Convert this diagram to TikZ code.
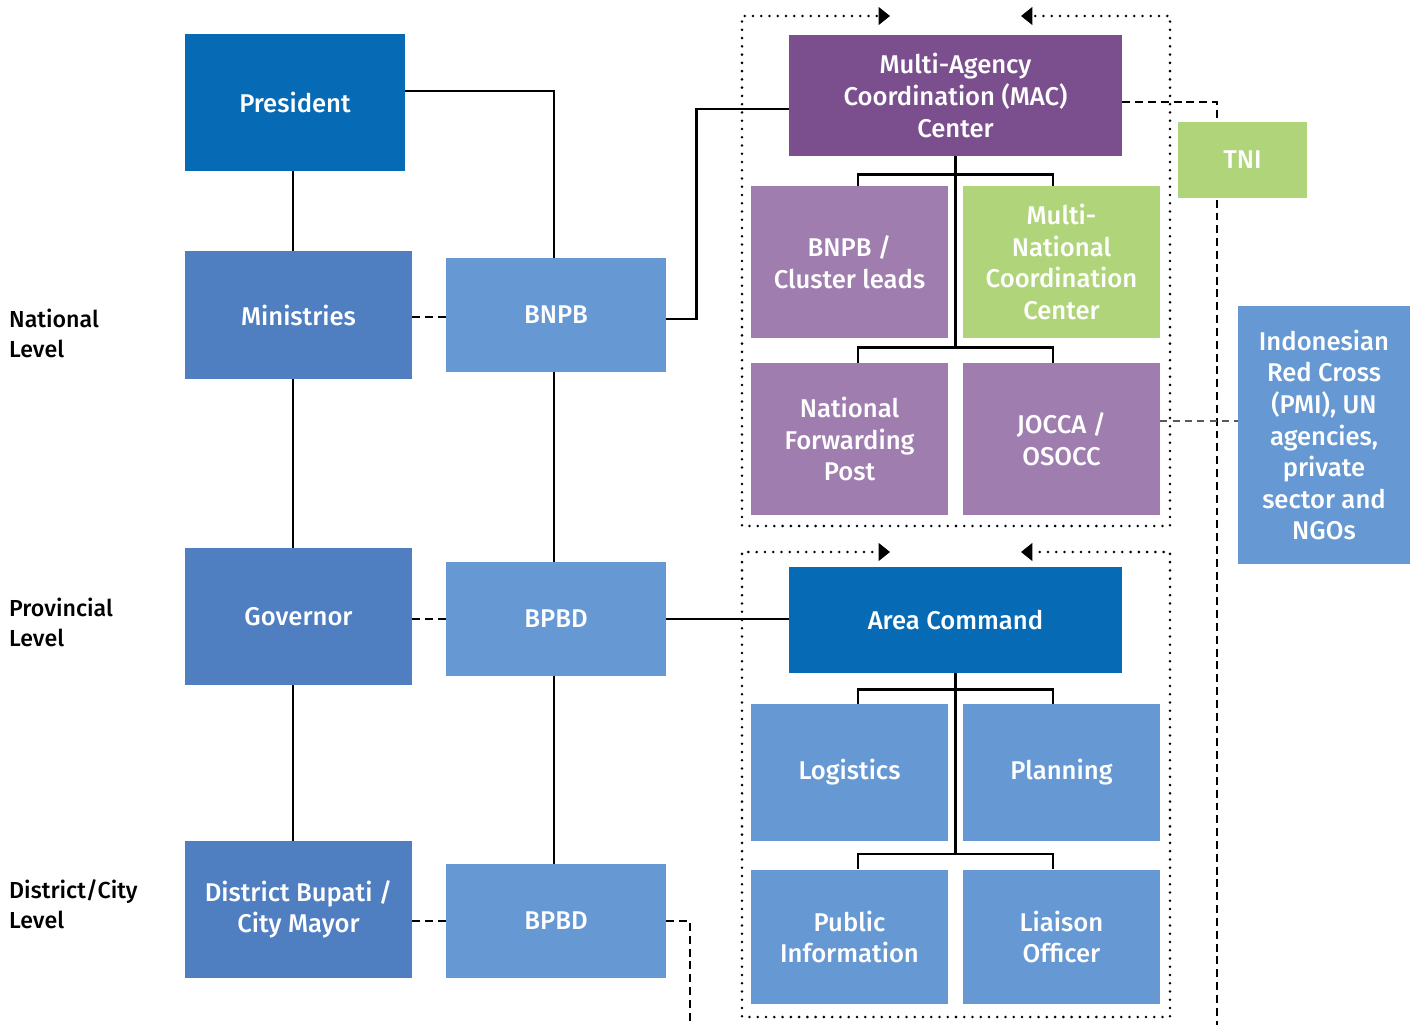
\documentclass[tikz,border=0pt]{standalone}
\usepackage{fontspec}
\setmainfont{Fira Sans}[UprightFont=* Medium]
\usetikzlibrary{arrows.meta,backgrounds}

\definecolor{deepblue}{HTML}{066AB4}
\definecolor{midblue}{HTML}{4F7EC1}
\definecolor{lightblue}{HTML}{6699D3}
\definecolor{darkpurple}{HTML}{7B4F8E}
\definecolor{lightpurple}{HTML}{A07DAF}
\definecolor{limegreen}{HTML}{B0D47A}

\tikzset{
  unit/.style={inner sep=2pt,align=center,text=white,
    font=\fontsize{14.6}{18}\selectfont},
  lvl/.style={anchor=west,align=left,font=\fontsize{13.2}{17}\selectfont},
  link/.style={line width=1.4pt},
  dashlink/.style={line width=1.5pt,dash pattern=on 4.5pt off 2.8pt},
  thindash/.style={line width=0.7pt,gray!70!black,dash pattern=on 4pt off 3pt},
  frame/.style={line width=1.6pt,dash pattern=on 0pt off 4.7pt,line cap=round,
    -{Triangle[length=6.5pt,width=10pt]}}
}

\begin{document}
\begin{tikzpicture}[x=0.02cm,y=-0.02cm]
  \useasboundingbox (0,0) rectangle (1416,1030);

  % government chain
  \node[unit,fill=deepblue,minimum width=4.4cm,minimum height=2.74cm] (pres) at (295,102.5) {President};
  \node[unit,fill=midblue,minimum width=4.54cm,minimum height=2.56cm] (min) at (298.5,315) {Ministries};
  \node[unit,fill=lightblue,minimum width=4.4cm,minimum height=2.28cm] (bnpb) at (556,315) {BNPB};
  \node[unit,fill=midblue,minimum width=4.54cm,minimum height=2.74cm] (gov) at (298.5,616.5) {Governor};
  \node[unit,fill=lightblue,minimum width=4.4cm,minimum height=2.28cm] (bpbdp) at (556,619) {BPBD};
  \node[unit,fill=midblue,minimum width=4.54cm,minimum height=2.74cm] (bupati) at (298.5,909.5) {District Bupati /\\City Mayor};
  \node[unit,fill=lightblue,minimum width=4.4cm,minimum height=2.28cm] (bpbdd) at (556,921) {BPBD};

  \node[lvl] (natlvl) at (3,333) {National\\Level};
  \node[lvl] (provlvl) at (3,622.5) {Provincial\\Level};
  \node[lvl] (distlvl) at (3,904.5) {District/City\\Level};

  % national coordination
  \node[unit,fill=darkpurple,minimum width=6.66cm,minimum height=2.42cm] (mac) at (955.5,95.5) {Multi-Agency\\Coordination (MAC)\\Center};
  \node[unit,fill=lightpurple,minimum width=3.94cm,minimum height=3.04cm] (cluster) at (849.5,262) {BNPB /\\Cluster leads};
  \node[unit,fill=limegreen,minimum width=3.94cm,minimum height=3.04cm] (mncc) at (1061.5,262) {Multi-\\National\\Coordination\\Center};
  \node[unit,fill=lightpurple,minimum width=3.94cm,minimum height=3.04cm] (nfp) at (849.5,439) {National\\Forwarding\\Post};
  \node[unit,fill=lightpurple,minimum width=3.94cm,minimum height=3.04cm] (jocca) at (1061.5,439) {JOCCA /\\OSOCC};
  \node[unit,fill=limegreen,minimum width=2.58cm,minimum height=1.52cm] (tni) at (1242.5,160) {TNI};
  \node[unit,fill=lightblue,minimum width=3.44cm,minimum height=5.16cm] (pmi) at (1324,435) {Indonesian\\Red Cross\\(PMI), UN\\agencies,\\private\\sector and\\NGOs};

  % area command
  \node[unit,fill=deepblue,minimum width=6.66cm,minimum height=2.12cm] (ac) at (955.5,620) {Area Command};
  \node[unit,fill=lightblue,minimum width=3.94cm,minimum height=2.74cm] (logi) at (849.5,772.5) {Logistics};
  \node[unit,fill=lightblue,minimum width=3.94cm,minimum height=2.74cm] (plan) at (1061.5,772.5) {Planning};
  \node[unit,fill=lightblue,minimum width=3.94cm,minimum height=2.7cm] (pubinfo) at (849.5,937) {Public\\Information};
  \node[unit,fill=lightblue,minimum width=3.94cm,minimum height=2.7cm] (liaison) at (1061.5,937) {Liaison\\Officer};

  \coordinate (distend) at (690,1025);
  \coordinate (tniend) at (1217,1025);

  \begin{scope}[on background layer]
    % hierarchy lines
    \draw[link] ([yshift=0.23cm]pres.east) -| ([xshift=-0.04cm]bnpb.north);
    \draw[link] ([xshift=-0.04cm]pres.south) -- ([xshift=-0.04cm]pres.south |- min.north);
    \draw[link] ([xshift=-0.04cm]pres.south |- min.south) -- ([xshift=-0.04cm]pres.south |- gov.north);
    \draw[link] ([xshift=-0.04cm]pres.south |- gov.south) -- ([xshift=-0.04cm]pres.south |- bupati.north);
    \draw[link] ([xshift=-0.04cm]bnpb.south) -- ([xshift=-0.04cm]bpbdp.north);
    \draw[link] ([xshift=-0.04cm]bpbdp.south) -- ([xshift=-0.04cm]bpbdd.north);
    \draw[dashlink] ([yshift=-0.04cm]min.east) -- ([yshift=-0.04cm]min.east -| bnpb.west);
    \draw[dashlink] (gov.east |- bpbdp.west) -- (bpbdp.west);
    \draw[dashlink] (bupati.east |- bpbdd.west) -- (bpbdd.west);
    \draw[dashlink] (bpbdd.east) -| (distend);
    \draw[link] ([yshift=-0.08cm]bnpb.east) -- ++(30,0) |- ([yshift=-0.27cm]mac.west);
    \draw[link] (bpbdp.east) -- (bpbdp.east -| ac.west);

    % MAC tree
    \draw[link] (mac.south) -- ++(0,192);
    \draw[link] ([xshift=0.17cm]cluster.north) -- ++(0,-11) -| ([xshift=-0.17cm]mncc.north);
    \draw[link] ([xshift=0.17cm]nfp.north) -- ++(0,-15) -| ([xshift=-0.17cm]jocca.north);
    \draw[dashlink] ([yshift=-0.13cm]mac.east) -| (tniend);
    \draw[thindash] ([yshift=0.36cm]jocca.east) -- ([yshift=0.36cm]jocca.east -| pmi.west);

    % area command tree
    \draw[link] (ac.south) -- ++(0,182);
    \draw[link] ([xshift=0.17cm]logi.north) -- ++(0,-14) -| ([xshift=-0.17cm]plan.north);
    \draw[link] ([xshift=0.17cm]pubinfo.north) -- ++(0,-15) -| ([xshift=-0.17cm]liaison.north);

    % dotted frames
    \draw[frame] (956,526) -| (742,16) -- (890,16);
    \draw[frame] (956,526) -| (1170,16) -- (1021,16);
    \draw[frame] (956,1017) -| (742,552) -- (890,552);
    \draw[frame] (956,1017) -| (1170,552) -- (1021,552);
  \end{scope}
\end{tikzpicture}
\end{document}
